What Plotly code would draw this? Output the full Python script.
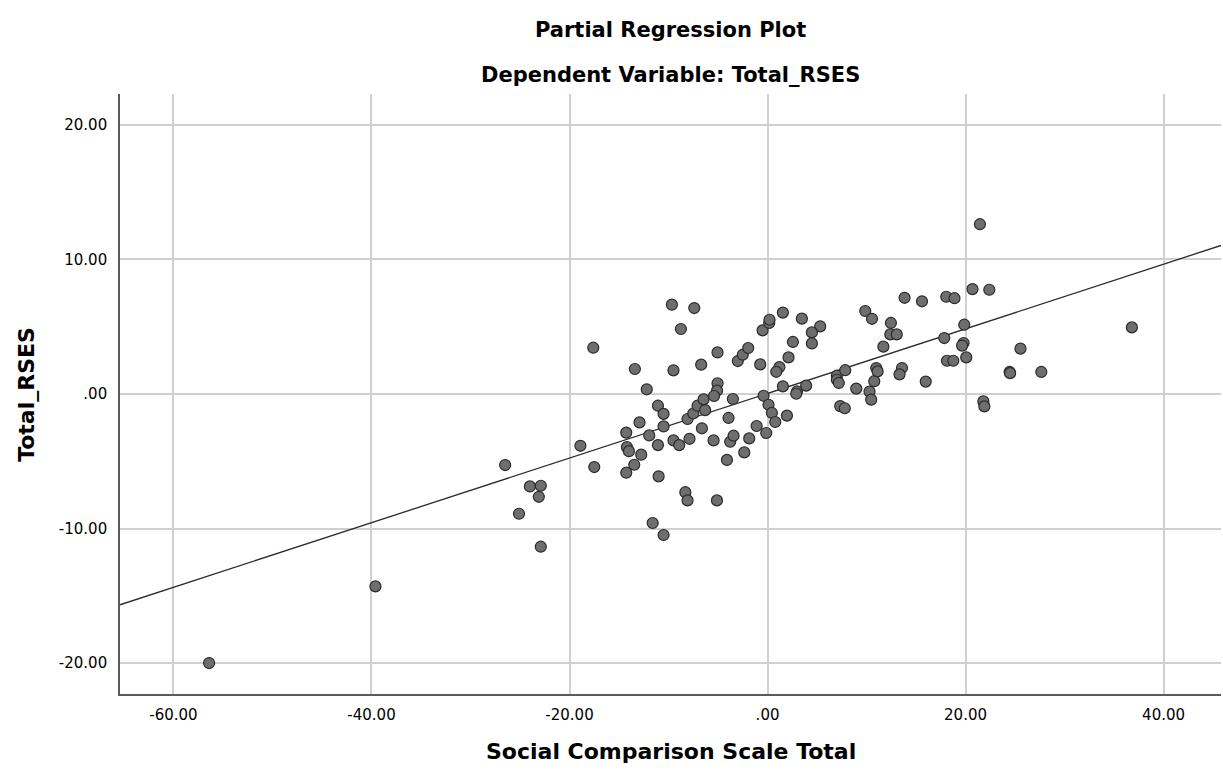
import plotly.graph_objects as go

# Partial regression residuals
sct_resid = [
    -56.4, -39.6,
    -26.5, -24.0, -22.9, -23.1, -25.1, -22.9, -18.9, -17.5, -17.6,
    -14.27, -14.2, -14.0, -12.76, -13.46, -14.27, -11.0, -13.4, -12.2, -11.07,
    -10.5, -12.93, -10.5, -11.95, -11.07, -9.5, -8.92, -7.88, -9.66, -7.4,
    -8.75, -9.5, -8.3, -8.08, -11.6, -10.5,
    -8.08, -7.5, -7.07, -6.46, -6.3, -6.63, -6.7, -5.05, -5.05, -5.1,
    -5.4, -5.45, -5.11, -3.94, -3.5, -4.1, -3.77, -3.43, -3.0, -2.5,
    -1.95, -2.35, -1.85, -1.1,
    -0.74, -0.5, 0.17, 0.2, 1.55, -0.4, 0.1, 0.44, 0.78, -0.13,
    1.96, 1.2, 0.88, 2.12, 2.56, 1.55, 2.97, 2.9, 3.9, 3.47,
    5.32, 4.48, 4.48,
    7.0, 7.0, 7.2, 7.85, 7.34, 7.8, 8.96, 9.87, 10.55, 10.3,
    10.47, 10.78, 10.98, 11.12, 11.7, 12.46, 12.4, 13.05, 13.84, 13.58,
    13.33, 15.6, 15.98,
    18.05, 18.88, 17.85, 19.87, 19.8, 19.65, 20.07, 18.12, 18.76, 20.7,
    22.4, 21.45, 21.8, 21.9,
    24.45, 24.5, 25.55, 27.65, 36.8,
]
rses_resid = [
    -20.0, -14.3,
    -5.28, -6.87, -6.82, -7.64, -8.9, -11.35, -3.85, -5.43, 3.44,
    -2.87, -3.95, -4.25, -4.51, -5.26, -5.85, -6.12, 1.86, 0.35, -0.87,
    -1.48, -2.11, -2.41, -3.08, -3.8, -3.45, -3.8, -3.33, 6.64, 6.39,
    4.83, 1.76, -7.3, -7.91, -9.59, -10.48,
    -1.86, -1.45, -0.87, -0.4, -1.2, -2.55, 2.18, 3.09, 0.8, 0.25,
    -0.15, -3.45, -7.91, -1.78, -0.37, -4.9, -3.55, -3.1, 2.45, 2.92,
    3.42, -4.34, -3.3, -2.38,
    2.2, 4.73, 5.28, 5.52, 6.05, -0.13, -0.8, -1.41, -2.08, -2.9,
    -1.61, 2.0, 1.65, 2.72, 3.87, 0.57, 0.19, 0.02, 0.62, 5.6,
    5.03, 4.58, 3.76,
    1.36, 1.06, 0.82, 1.77, -0.9, -1.06, 0.4, 6.17, 5.59, 0.18,
    -0.42, 0.95, 1.93, 1.68, 3.52, 5.28, 4.43, 4.43, 7.15, 1.93,
    1.46, 6.89, 0.92,
    7.23, 7.12, 4.16, 5.15, 3.79, 3.6, 2.72, 2.47, 2.47, 7.8,
    7.75, 12.62, -0.55, -0.92,
    1.64, 1.55, 3.37, 1.64, 4.95,
]

fit_slope = 0.2402
fit_intercept = 0.04

x_range = [-65.4, 45.8]
y_range = [-22.3, 22.3]
x_ticks = [-60, -40, -20, 0, 20, 40]
x_tick_labels = ["-60.00", "-40.00", "-20.00", ".00", "20.00", "40.00"]
y_ticks = [-20, -10, 0, 10, 20]
y_tick_labels = ["-20.00", "-10.00", ".00", "10.00", "20.00"]

fit_x = list(x_range)
fit_y = [fit_intercept + fit_slope * v for v in fit_x]

FONT = "DejaVu Sans, Arial, sans-serif"

fig = go.Figure()
fig.add_trace(go.Scatter(
    x=fit_x, y=fit_y, mode="lines",
    line=dict(color="#2a2a2a", width=1.3),
    hoverinfo="skip", showlegend=False,
))
fig.add_trace(go.Scatter(
    x=sct_resid, y=rses_resid, mode="markers",
    marker=dict(size=11, color="#6e6e6e", line=dict(color="#2b2b2b", width=1.2)),
    showlegend=False,
))

fig.update_layout(
    width=1223, height=773,
    margin=dict(l=120, r=2, t=94, b=79),
    paper_bgcolor="white", plot_bgcolor="white",
    font=dict(family=FONT, color="black"),
    showlegend=False,
    annotations=[
        dict(text="<b>Partial Regression Plot</b>", xref="paper", yref="paper",
             x=0.5, y=1.106, xanchor="center", yanchor="middle", showarrow=False,
             font=dict(size=21, family=FONT, color="black")),
        dict(text="<b>Dependent Variable: Total_RSES</b>", xref="paper", yref="paper",
             x=0.5, y=1.0317, xanchor="center", yanchor="middle", showarrow=False,
             font=dict(size=21, family=FONT, color="black")),
        dict(text="<b>Social Comparison Scale Total</b>", xref="paper", yref="paper",
             x=0.5, y=-0.096, xanchor="center", yanchor="middle", showarrow=False,
             font=dict(size=22, family=FONT, color="black")),
        dict(text="<b>Total_RSES</b>", xref="paper", yref="paper",
             x=-0.0855, y=0.5, xanchor="center", yanchor="middle", showarrow=False,
             textangle=-90, font=dict(size=22, family=FONT, color="black")),
    ],
)
fig.update_xaxes(
    range=x_range, tickvals=x_ticks, ticktext=x_tick_labels,
    showgrid=True, gridcolor="#d0d0d0", gridwidth=1.6,
    zeroline=False, showline=True, linecolor="#5a5a5a", linewidth=1.6,
    ticks="outside", ticklen=6, tickcolor="rgba(0,0,0,0)",
    tickfont=dict(size=15, family=FONT, color="black"),
)
fig.update_yaxes(
    range=y_range, tickvals=y_ticks, ticktext=y_tick_labels,
    showgrid=True, gridcolor="#d0d0d0", gridwidth=1.6,
    zeroline=False, showline=True, linecolor="#5a5a5a", linewidth=1.6,
    ticks="outside", ticklen=8, tickcolor="rgba(0,0,0,0)",
    tickfont=dict(size=15, family=FONT, color="black"),
)

fig.write_html("out.html")
